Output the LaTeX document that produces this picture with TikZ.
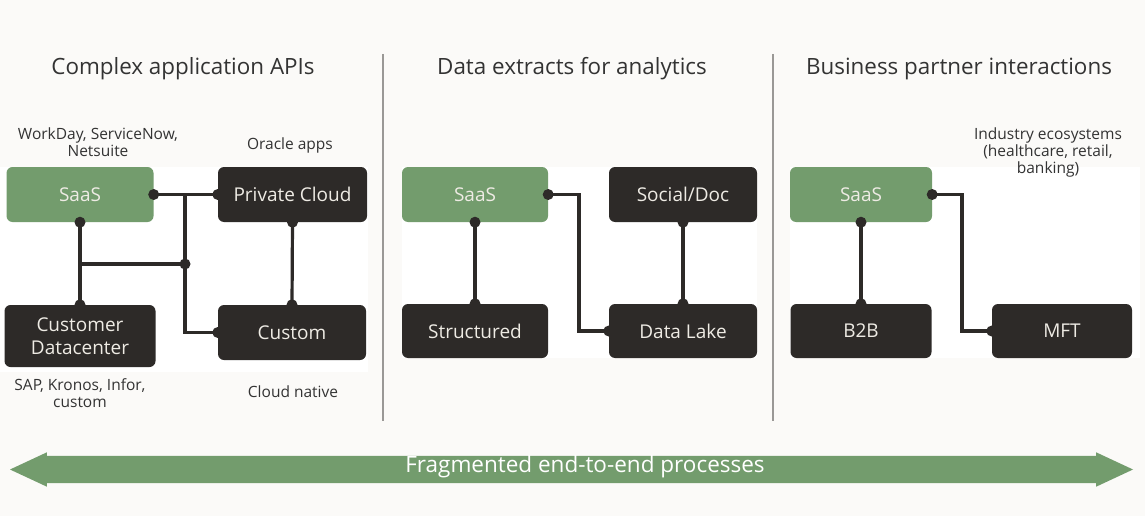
\documentclass[tikz,border=0pt]{standalone}
\usepackage{fontspec}
\setmainfont{Open Sans}
\usetikzlibrary{shapes.arrows}
\definecolor{pagebg}{HTML}{FBFAF8}
\definecolor{saasgreen}{HTML}{739C6D}
\definecolor{sysdark}{HTML}{2D2A28}
\definecolor{inktext}{HTML}{333333}
\definecolor{boxtext}{HTML}{EEEBE4}
\definecolor{rulegrey}{HTML}{9A9896}

\begin{document}
\begin{tikzpicture}[x=1pt,y=-1pt]
\tikzstyle{saasbox}=[fill=saasgreen,rounded corners=6pt,inner sep=0pt,text=boxtext,font=\fontsize{19}{23}\selectfont];
\tikzstyle{sysbox}=[fill=sysdark,rounded corners=6pt,inner sep=0pt,text=boxtext,font=\fontsize{19}{23}\selectfont,align=center];
\tikzstyle{heading}=[text=inktext,font=\fontsize{22.4}{26}\selectfont];
\tikzstyle{note}=[text=inktext,font=\fontsize{15.5}{16.5}\selectfont,align=center];
\tikzstyle{link}=[draw=sysdark,line width=3.2pt];
\tikzstyle{pin}=[fill=sysdark];
\useasboundingbox[fill=pagebg] (0,0) rectangle (1145,516);
% white panels
\fill[white] (0,167) rectangle (368,372);
\fill[white] (402,167) rectangle (757,358);
\fill[white] (790,167) rectangle (1140,358);
% dividers
\draw[rulegrey,line width=1.5pt] (383,54) -- (383,421);
\draw[rulegrey,line width=1.5pt] (773,54) -- (773,421);
% headings
\node[heading] (h1) at (183,69) {Complex application APIs};
\node[heading] (h2) at (572,69) {Data extracts for analytics};
\node[heading] (h3) at (959,69) {Business partner interactions};

% section 1
\node[saasbox,minimum width=147pt,minimum height=55pt] (saasA) at (80,194.5) {SaaS};
\node[sysbox,minimum width=149pt,minimum height=55pt] (pcloudA) at (292.5,194.5) {Private Cloud};
\node[sysbox,minimum width=151pt,minimum height=62pt] (cdcA) at (80,336) {Customer\\Datacenter};
\node[sysbox,minimum width=148pt,minimum height=55pt] (customA) at (292,332.5) {Custom};
\node[note] (nA1) at (98,142) {WorkDay, ServiceNow,\\Netsuite};
\node[note] (nA2) at (290,145) {Oracle apps};
\node[note] (nA3) at (80,393) {SAP, Kronos, Infor,\\custom};
\node[note] (nA4) at (293,392) {Cloud native};
\coordinate (forkA) at (185,194.5);
\coordinate (hubA) at (185,264);
\draw[link] (saasA.east) -- (pcloudA.west);
\draw[link] (forkA) |- (customA.west);
\draw[link] (saasA.south) -- (cdcA.north);
\draw[link] (saasA.south |- hubA) -- (hubA);
\draw[link] (pcloudA.south) -- (customA.north);
\fill[pin] (saasA.east) circle (5.5pt);
\fill[pin] (saasA.south) circle (5.5pt);
\fill[pin] (pcloudA.west) circle (5.5pt);
\fill[pin] (pcloudA.south) circle (5.5pt);
\fill[pin] (cdcA.north) circle (5.5pt);
\fill[pin] (customA.west) circle (5.5pt);
\fill[pin] (customA.north) circle (5.5pt);
\fill[pin] (hubA) circle (5.5pt);

% section 2
\node[saasbox,minimum width=146pt,minimum height=55pt] (saasB) at (475,194.5) {SaaS};
\node[sysbox,minimum width=148pt,minimum height=55pt] (socialB) at (683,194.5) {Social/Doc};
\node[sysbox,minimum width=146pt,minimum height=54pt] (structB) at (475,331) {Structured};
\node[sysbox,minimum width=148pt,minimum height=54pt] (lakeB) at (683,331) {Data Lake};
\coordinate (bendB) at (579,194.5);
\draw[link] (saasB.east) -- (bendB) |- (lakeB.west);
\draw[link] (saasB.south) -- (structB.north);
\draw[link] (socialB.south) -- (lakeB.north);
\fill[pin] (saasB.east) circle (5.5pt);
\fill[pin] (saasB.south) circle (5.5pt);
\fill[pin] (socialB.south) circle (5.5pt);
\fill[pin] (structB.north) circle (5.5pt);
\fill[pin] (lakeB.west) circle (5.5pt);
\fill[pin] (lakeB.north) circle (5.5pt);

% section 3
\node[saasbox,minimum width=142pt,minimum height=55pt] (saasC) at (861,194.5) {SaaS};
\node[sysbox,minimum width=141pt,minimum height=54pt] (b2bC) at (861,331) {B2B};
\node[sysbox,minimum width=140pt,minimum height=54pt] (mftC) at (1062,331) {MFT};
\node[note,font=\fontsize{15.5}{17}\selectfont] (nC1) at (1048,152) {Industry ecosystems\\(healthcare, retail,\\banking)};
\coordinate (bendC) at (962,194.5);
\draw[link] (saasC.east) -- (bendC) |- (mftC.west);
\draw[link] (saasC.south) -- (b2bC.north);
\fill[pin] (saasC.east) circle (5.5pt);
\fill[pin] (saasC.south) circle (5.5pt);
\fill[pin] (b2bC.north) circle (5.5pt);
\fill[pin] (mftC.west) circle (5.5pt);

% end-to-end arrow
\node[double arrow,fill=saasgreen,inner sep=0pt,minimum height=1123pt,
  double arrow head extend=3.5pt,double arrow tip angle=50] (flow) at (571.5,469.5) {\rule{0pt}{27pt}};
\node[text=white,font=\fontsize{22.5}{26}\selectfont] (flowtxt) at (585,467) {Fragmented end-to-end processes};
\end{tikzpicture}
\end{document}
